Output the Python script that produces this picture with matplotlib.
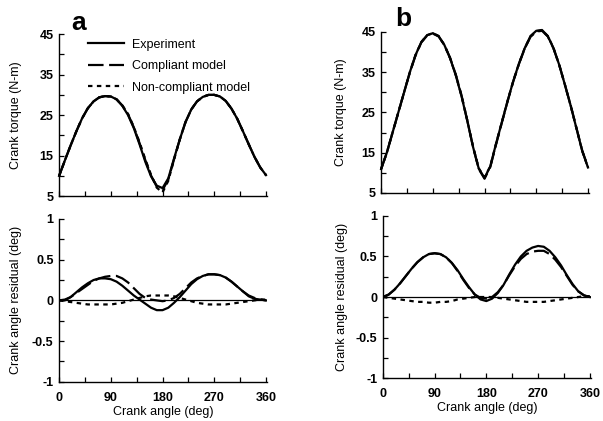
import numpy as np
import matplotlib
matplotlib.use('Agg')
import matplotlib.pyplot as plt
from matplotlib.ticker import MultipleLocator

plt.rcParams['font.family'] = ['Liberation Sans', 'DejaVu Sans']

angle = list(range(0, 361, 10))

# panel a: crank torque (N-m)
torque_a_exp = [10.0, 13.8, 17.5, 21.0, 24.2, 26.7, 28.4, 29.4, 29.7, 29.6, 28.9, 27.3, 25.0,
                21.8, 17.8, 13.5, 9.9, 7.6, 7.0, 9.4, 14.3, 19.0, 23.3, 26.4, 28.4, 29.5,
                30.0, 30.0, 29.6, 28.5, 26.6, 24.1, 21.0, 17.8, 14.7, 12.1, 10.2]
torque_a_comp = [10.0, 13.8, 17.5, 21.0, 24.2, 26.7, 28.4, 29.4, 29.7, 29.6, 28.9, 27.4, 25.2,
                 22.0, 18.1, 13.9, 10.1, 7.3, 6.5, 9.1, 14.1, 19.0, 23.3, 26.4, 28.4, 29.5,
                 30.0, 30.0, 29.6, 28.5, 26.6, 24.1, 21.0, 17.8, 14.7, 12.1, 10.2]
torque_a_noncomp = [10.0, 13.8, 17.5, 21.0, 24.2, 26.7, 28.4, 29.4, 29.7, 29.6, 28.9, 27.4, 25.3,
                    22.1, 18.3, 14.1, 10.3, 7.1, 5.9, 8.8, 14.0, 19.0, 23.3, 26.4, 28.4, 29.5,
                    30.0, 30.0, 29.6, 28.5, 26.6, 24.1, 21.0, 17.8, 14.7, 12.1, 10.2]

# panel a: crank angle residual (deg)
resid_a_exp = [0.0, 0.0, 0.04, 0.10, 0.16, 0.21, 0.25, 0.27, 0.27, 0.26, 0.23, 0.18, 0.12,
               0.06, 0.01, -0.04, -0.09, -0.12, -0.12, -0.09, -0.03, 0.04, 0.12, 0.20, 0.26,
               0.30, 0.32, 0.32, 0.31, 0.28, 0.23, 0.17, 0.11, 0.05, 0.02, 0.01, 0.0]
resid_a_comp = [0.0, 0.01, 0.04, 0.09, 0.14, 0.19, 0.24, 0.27, 0.29, 0.30, 0.30, 0.27, 0.22,
                0.15, 0.08, 0.03, 0.01, 0.0, -0.01, 0.0, 0.03, 0.08, 0.15, 0.22, 0.27,
                0.30, 0.32, 0.32, 0.31, 0.28, 0.23, 0.17, 0.11, 0.06, 0.03, 0.01, 0.0]
resid_a_noncomp = [0.0, -0.01, -0.02, -0.03, -0.04, -0.05, -0.05, -0.05, -0.05, -0.05, -0.04,
                   -0.03, -0.01, 0.01, 0.03, 0.05, 0.06, 0.06, 0.06, 0.06, 0.05, 0.03, 0.01,
                   -0.01, -0.03, -0.04, -0.05, -0.05, -0.05, -0.05, -0.04, -0.03, -0.02, -0.01,
                   0.0, 0.01, 0.01]

# panel b: crank torque (N-m)
torque_b_exp = [10.9, 15.0, 20.0, 25.0, 30.0, 35.0, 39.3, 42.5, 44.2, 44.7, 44.0, 41.8, 38.5,
                34.2, 29.0, 22.9, 16.4, 11.0, 8.7, 11.6, 17.2, 22.5, 27.8, 32.8, 37.2, 41.0,
                44.0, 45.3, 45.5, 44.0, 41.0, 36.8, 31.8, 26.6, 21.0, 15.4, 11.3]
torque_b_comp = [10.9, 15.0, 20.0, 25.0, 30.0, 34.9, 39.2, 42.4, 44.1, 44.6, 43.9, 41.8, 38.6,
                 34.4, 29.2, 23.0, 16.4, 10.9, 8.5, 11.4, 17.0, 22.4, 27.7, 32.7, 37.1, 40.9,
                 43.8, 45.1, 45.3, 43.9, 40.9, 36.8, 31.8, 26.7, 21.1, 15.5, 11.4]
torque_b_noncomp = [10.9, 15.0, 20.0, 25.0, 30.0, 35.0, 39.3, 42.5, 44.2, 44.7, 44.0, 41.8, 38.5,
                    34.3, 29.1, 23.0, 16.5, 11.1, 8.8, 11.6, 17.2, 22.5, 27.8, 32.8, 37.2, 41.0,
                    43.9, 45.2, 45.4, 44.0, 41.0, 36.8, 31.8, 26.6, 21.0, 15.4, 11.3]

# panel b: crank angle residual (deg)
resid_b_exp = [0.0, 0.03, 0.09, 0.17, 0.26, 0.35, 0.43, 0.49, 0.53, 0.54, 0.53, 0.49, 0.42,
               0.33, 0.22, 0.12, 0.03, -0.03, -0.05, -0.02, 0.05, 0.15, 0.28, 0.40, 0.50,
               0.57, 0.61, 0.63, 0.62, 0.57, 0.49, 0.39, 0.27, 0.16, 0.07, 0.02, 0.0]
resid_b_comp = [0.0, 0.03, 0.09, 0.17, 0.26, 0.35, 0.43, 0.49, 0.53, 0.54, 0.53, 0.49, 0.42,
                0.32, 0.21, 0.11, 0.03, -0.01, -0.02, 0.0, 0.06, 0.15, 0.27, 0.38, 0.47,
                0.53, 0.56, 0.57, 0.57, 0.53, 0.46, 0.37, 0.26, 0.15, 0.07, 0.02, 0.0]
resid_b_noncomp = [0.0, -0.01, -0.02, -0.03, -0.04, -0.05, -0.06, -0.06, -0.07, -0.07, -0.06,
                   -0.06, -0.05, -0.03, -0.02, -0.01, 0.0, 0.0, 0.0, 0.0, -0.01, -0.02, -0.03,
                   -0.04, -0.05, -0.06, -0.06, -0.06, -0.06, -0.05, -0.04, -0.03, -0.02, -0.01,
                   0.0, 0.01, 0.01]

labels = ['Experiment', 'Compliant model', 'Non-compliant model']
styles = ['-', (0, (7, 2.5)), (0, (2, 2))]
x_ticks = [0, 90, 180, 270, 360]

fig = plt.figure(figsize=(6.03, 4.21), dpi=100)

def style_axes(ax):
    for s in ['top', 'right']:
        ax.spines[s].set_visible(False)
    for s in ['left', 'bottom']:
        ax.spines[s].set_linewidth(1.0)
    ax.set_xlim(0, 362)
    ax.set_xticks(x_ticks)
    ax.xaxis.set_minor_locator(MultipleLocator(45))
    ax.tick_params(which='both', direction='in', length=3.5, width=0.9, labelsize=9)
    ax.tick_params(axis='x', pad=7)
    ax.tick_params(axis='y', pad=4)
    for lab in ax.get_xticklabels() + ax.get_yticklabels():
        lab.set_fontweight('bold')

def torque_panel(rect, series, letter, letter_pos, ylab_x, legend):
    ax = fig.add_axes(rect)
    for y, ls, lab in zip(series, styles, labels):
        ax.plot(angle, y, color='black', linestyle=ls, linewidth=1.6, label=lab, clip_on=False)
    ax.set_ylim(5, 45)
    ax.set_yticks([5, 15, 25, 35, 45])
    ax.yaxis.set_minor_locator(MultipleLocator(5))
    style_axes(ax)
    ax.set_xticklabels([])
    ax.set_ylabel('Crank torque (N-m)', fontsize=9)
    ax.yaxis.set_label_coords(ylab_x, 0.5)
    ax.text(letter_pos[0], letter_pos[1], letter, transform=ax.transAxes, fontsize=19,
            fontweight='bold', va='baseline')
    if legend:
        ax.legend(loc='upper left', bbox_to_anchor=(0.085, 1.04), frameon=False, fontsize=9,
                  handlelength=2.9, handletextpad=0.6, labelspacing=0.75)
    return ax

def resid_panel(rect, series, ylab_x):
    ax = fig.add_axes(rect)
    ax.axhline(0, color='black', linewidth=0.9)
    for y, ls in zip(series, styles):
        ax.plot(angle, y, color='black', linestyle=ls, linewidth=1.6)
    ax.set_ylim(-1, 1)
    ax.set_yticks([-1, -0.5, 0, 0.5, 1])
    ax.set_yticklabels(['-1', '-0.5', '0', '0.5', '1'])
    ax.yaxis.set_minor_locator(MultipleLocator(0.25))
    style_axes(ax)
    ax.set_ylabel('Crank angle residual (deg)', fontsize=9)
    ax.yaxis.set_label_coords(ylab_x, 0.5)
    ax.set_xlabel('Crank angle (deg)', fontsize=9)
    ax.xaxis.set_label_coords(0.5, -0.15)
    return ax

torque_panel([0.098, 0.534, 0.345, 0.385], [torque_a_exp, torque_a_comp, torque_a_noncomp],
             'a', (0.06, 1.025), -0.178, True)
resid_panel([0.098, 0.093, 0.345, 0.387], [resid_a_exp, resid_a_comp, resid_a_noncomp], -0.178)
torque_panel([0.632, 0.542, 0.345, 0.382], [torque_b_exp, torque_b_comp, torque_b_noncomp],
             'b', (0.07, 1.037), -0.163, False)
resid_panel([0.635, 0.102, 0.345, 0.385], [resid_b_exp, resid_b_comp, resid_b_noncomp], -0.17)

fig.savefig('out.png', dpi=100)
